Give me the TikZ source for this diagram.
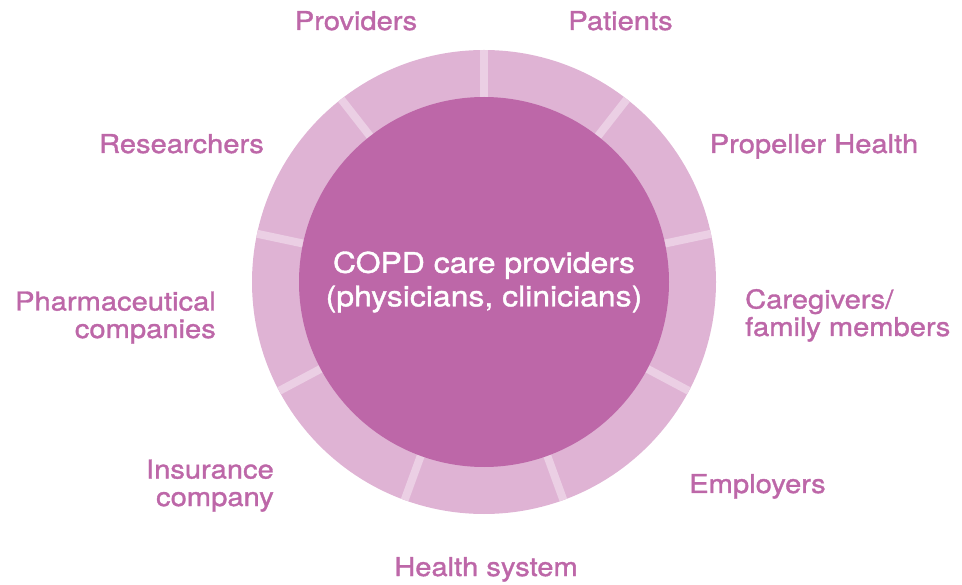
\documentclass[tikz,border=0pt]{standalone}
\usepackage{fontspec}
\setmainfont{TeX Gyre Heros}[FakeStretch=1.12,FakeBold=1.3]
\usetikzlibrary{calc}

\definecolor{ringpink}{HTML}{DFB3D4}
\definecolor{gappink}{HTML}{EBCFE4}
\definecolor{copdpink}{HTML}{BD67A8}

\tikzset{
  hub/.style={circle,fill=copdpink,minimum size=370pt,inner sep=0pt,
    text=white,align=center,font=\fontsize{28.5}{33.5}\selectfont},
  lbl/.style={text=copdpink,inner sep=0pt,font=\fontsize{26}{27.5}\selectfont}
}

\begin{document}
\begin{tikzpicture}[x=1pt,y=-1pt]
  \useasboundingbox (0,0) rectangle (962,585);
  \coordinate (c) at (484,282);

  % outer ring with its gaps
  \fill[ringpink] (c) circle (232pt);
  \foreach \a in {90,52,12,-28,-70,-110,-152,168,128}
    \draw[gappink,line width=8pt] ($(c)+(\a:175pt)$) -- ($(c)+(\a:232pt)$);

  \node[hub] (copd) at (c) {COPD care providers\\(physicians, clinicians)};

  % labels round the ring (base = last line)
  \begin{scope}[every node/.style={lbl}]
    \node (providers)  [anchor=base]      at (356,30)  {Providers};
    \node (patients)   [anchor=base]      at (620.5,30) {Patients};
    \node (researchers)[anchor=base]      at (181.5,153) {Researchers};
    \node (propeller)  [anchor=base]      at (814,153) {Propeller Health};
    \node (pharma)     [anchor=base east,align=right] at (216,338) {Pharmaceutical\\companies};
    \node (caregivers) [anchor=base west,align=left]  at (745,336) {Caregivers/\\family members};
    \node (insurance)  [anchor=base east,align=right] at (274,506) {Insurance\\company};
    \node (employers)  [anchor=base west] at (689,493) {Employers};
    \node (healthsys)  [anchor=base]      at (486,576) {Health system};
  \end{scope}

\end{tikzpicture}
\end{document}
